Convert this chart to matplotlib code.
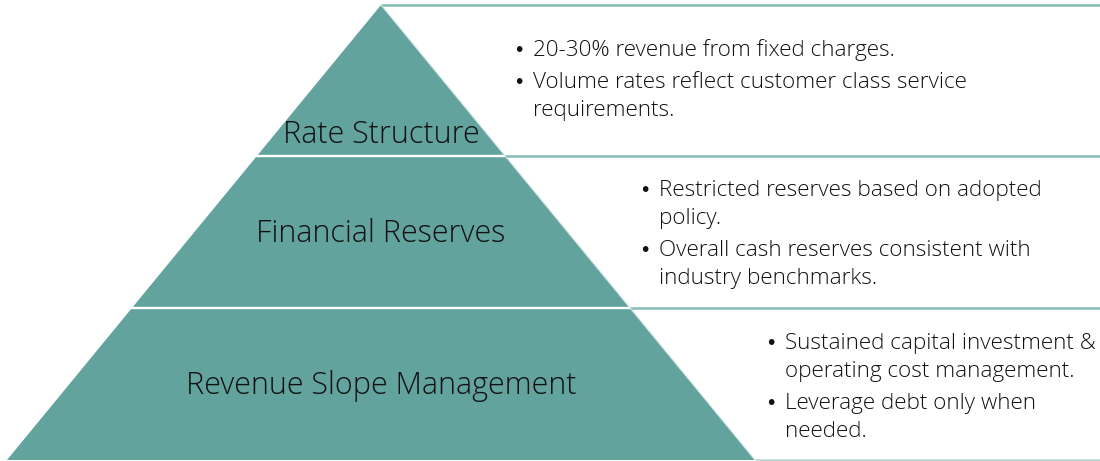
import matplotlib.pyplot as plt
from matplotlib.patches import Polygon

plt.rcParams['font.family'] = ['Open Sans', 'DejaVu Sans']

tiers = ["Rate Structure", "Financial Reserves", "Revenue Slope Management"]
bullets = [
    ["20-30% revenue from fixed charges.",
     "Volume rates reflect customer class service\nrequirements."],
    ["Restricted reserves based on adopted\npolicy.",
     "Overall cash reserves consistent with\nindustry benchmarks."],
    ["Sustained capital investment &\noperating cost management.",
     "Leverage debt only when\nneeded."],
]

teal = '#63a39e'
line_col = '#86bcb7'

W, H = 1100, 461
fig = plt.figure(figsize=(11, 4.61), dpi=100)
ax = fig.add_axes([0, 0, 1, 1])
ax.set_xlim(0, W)
ax.set_ylim(H, 0)
ax.axis('off')

apex_x, top_y, base_y = 381, 5, 460
slope = (381 - 7) / (base_y - top_y)
bounds = [top_y, 156, 308, base_y]

def half(y):
    return (y - top_y) * slope

for i in range(3):
    y0 = bounds[i] + (0 if i == 0 else 1.2)
    y1 = bounds[i + 1] - (1.2 if i < 2 else 0)
    pts = [(apex_x - half(y0), y0), (apex_x + half(y0), y0),
           (apex_x + half(y1), y1), (apex_x - half(y1), y1)]
    ax.add_patch(Polygon(pts, closed=True, facecolor=teal, edgecolor='none'))

# separator lines for the text panels
for k, y in enumerate(bounds):
    col = line_col if k < 3 else '#b9d8d5'
    ax.plot([apex_x + half(y), W], [y, y], color=col, lw=1.8,
            solid_capstyle='butt')
ax.plot([apex_x, apex_x + half(base_y)], [top_y, base_y], color='#cfe4e2', lw=0.8)

# tier labels
label_y = [135, 234, 386]
for name, y in zip(tiers, label_y):
    ax.text(apex_x, y, name, ha='center', va='center', fontsize=22,
            fontweight='light', color='#111111')

# bullet text
bullet_x = [514, 640, 766]
first_y = [50, 190, 343]
line_h = 28
gap = 4
for bx, fy, items in zip(bullet_x, first_y, bullets):
    y = fy
    for item in items:
        lines = item.split('\n')
        ax.text(bx - 1, y, '•', ha='left', va='center', fontsize=14,
                family='DejaVu Sans', color='#111111')
        for ln in lines:
            ax.text(bx + 19, y, ln, ha='left', va='center', fontsize=16.2,
                    fontweight='light', color='#111111')
            y += line_h
        y += gap

fig.savefig('out.png', dpi=100)
